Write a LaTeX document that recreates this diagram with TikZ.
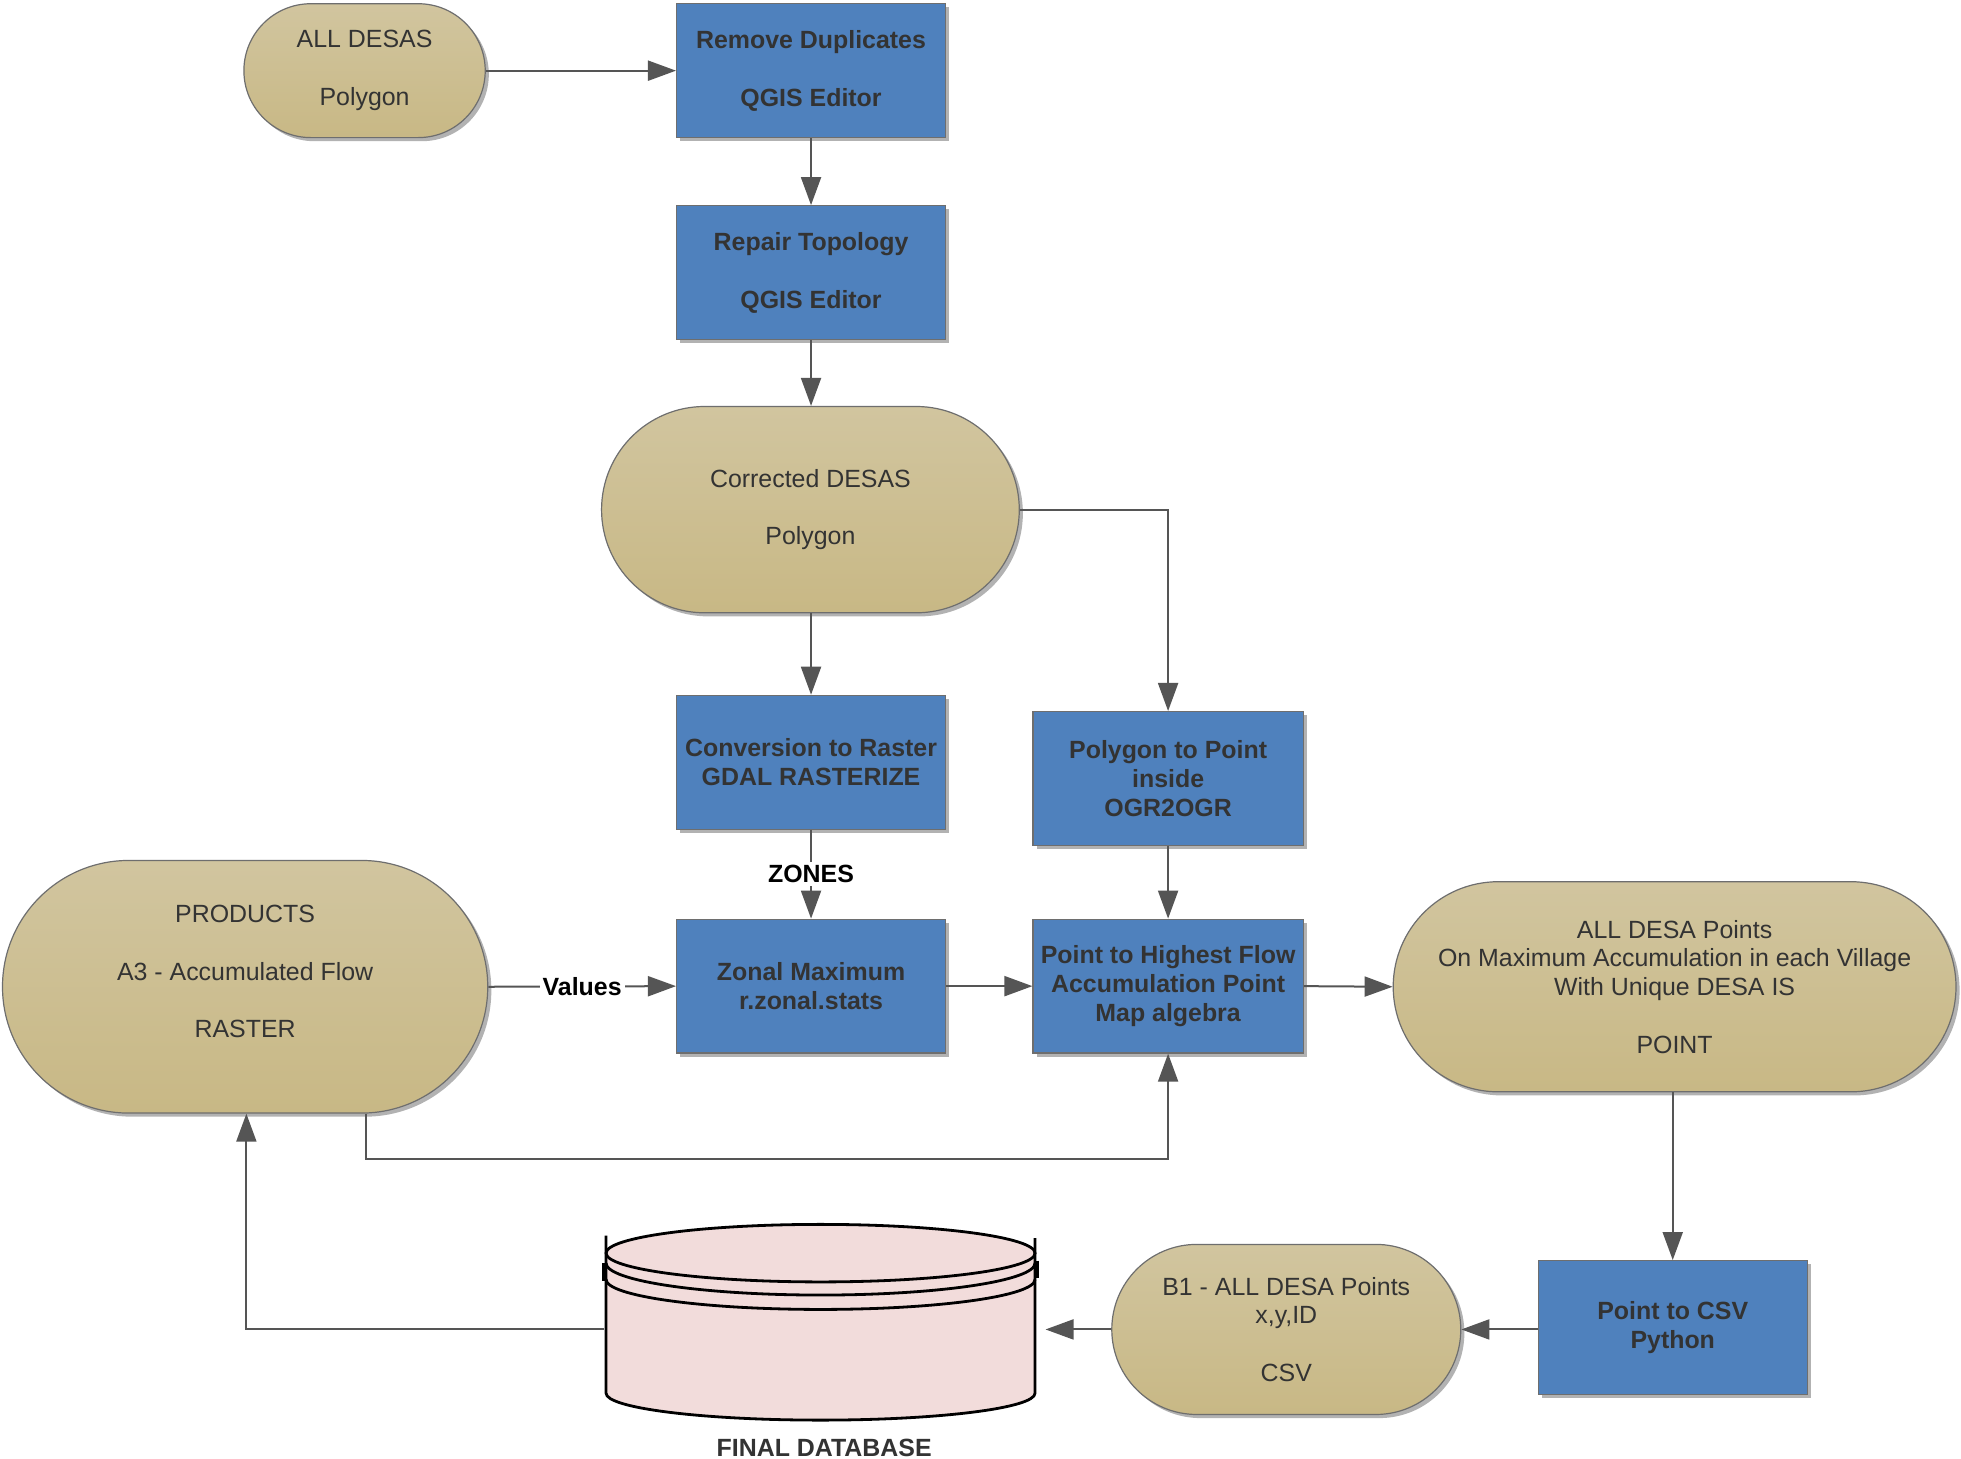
\documentclass[tikz,border=0pt]{standalone}
\usepackage{fontspec}
\setmainfont{Liberation Sans}
\usetikzlibrary{shapes.misc,shadows,arrows.meta,calc}
\definecolor{boxblue}{HTML}{4F81BD}
\definecolor{tanTop}{HTML}{D1C59F}
\definecolor{tanBot}{HTML}{C8B885}
\definecolor{edgegray}{HTML}{6E6E6E}
\definecolor{linegray}{HTML}{555555}
\definecolor{txt}{HTML}{333333}
\definecolor{dbpink}{HTML}{F2DCDB}
\begin{document}
\begin{tikzpicture}[x=0.625pt,y=-0.625pt,
  font=\fontsize{12.45}{14.4}\selectfont,
  shad/.style={drop shadow={shadow xshift=1.8pt, shadow yshift=-1.8pt, fill=black, opacity=0.3}},
  procbox/.style={rectangle, fill=boxblue, draw=edgegray, line width=0.6pt, text=txt,
    font=\fontsize{12.45}{14.4}\selectfont\bfseries, align=center, inner sep=0pt,
    minimum width=134.4pt, minimum height=66.9pt, shad},
  datanode/.style={rounded rectangle, top color=tanTop, bottom color=tanBot, draw=edgegray,
    line width=0.6pt, text=txt, align=center, inner sep=0pt, shad},
  plaintext/.style={text=txt, align=center, inner sep=0pt},
  lbl/.style={fill=white, text=black, font=\fontsize{12.45}{14.4}\selectfont\bfseries, inner sep=1.5pt},
  conn/.style={draw=linegray, line width=1pt, -{Triangle[length=14pt,width=10pt]}},
  dbline/.style={draw=black, line width=1.4pt},
]
\useasboundingbox[fill=white] (0,0) rectangle (1568,1166);

% data (tan) nodes
\node[datanode, minimum width=120.6pt, minimum height=66.9pt] (alldesas) at (291.5,56.5)
  {ALL DESAS\\[14.4pt]Polygon};
\node[datanode, minimum width=208.75pt, minimum height=103.1pt] (corrected) at (648,407.5)
  {Corrected DESAS\\[14.4pt]Polygon};
\node[datanode, minimum width=242.5pt, minimum height=126.25pt] (products) at (196,789) {};
\node[plaintext] (productstext) at (196,777)
  {PRODUCTS\\[14.4pt]A3 - Accumulated Flow\\[14.4pt]RASTER};
\node[datanode, minimum width=281.25pt, minimum height=105pt] (alldesapts) at (1339,789)
  {ALL DESA Points\\On Maximum Accumulation in each Village\\With Unique DESA IS\\[14.4pt]POINT};
\node[datanode, minimum width=174.4pt, minimum height=85pt] (b1) at (1028.5,1063)
  {B1 - ALL DESA Points\\x,y,ID\\[14.4pt]CSV};

% process (blue) boxes
\node[procbox] (remdup) at (648.5,56.5) {Remove Duplicates\\[14.4pt]QGIS Editor};
\node[procbox] (repair) at (648.5,218) {Repair Topology\\[14.4pt]QGIS Editor};
\node[procbox] (conv) at (648.5,609.5) {Conversion to Raster\\GDAL RASTERIZE};
\node[procbox, minimum width=135pt] (poly2pt) at (934,622.5) {Polygon to Point\\inside\\OGR2OGR};
\node[procbox] (zonal) at (648.5,788.5) {Zonal Maximum\\r.zonal.stats};
\node[procbox, minimum width=135pt] (highest) at (934,788.5) {Point to Highest Flow\\Accumulation Point\\Map algebra};
\node[procbox] (pt2csv) at (1337.5,1061.5) {Point to CSV\\Python};

% database cylinder
\fill[dbpink] (484.6,1002) -- (484.6,1114)
  arc[start angle=180, end angle=0, x radius=171.5, y radius=21.5]
  -- (827.6,1002)
  arc[start angle=0, end angle=-180, x radius=171.5, y radius=23] -- cycle;
\draw[dbline] (656.1,1002) ellipse [x radius=171.5, y radius=23];
\draw[dbline] (484.6,1010) arc[start angle=180, end angle=0, x radius=171.5, y radius=25.5];
\draw[dbline] (484.6,1023) arc[start angle=180, end angle=0, x radius=171.5, y radius=24];
\draw[dbline] (484.6,988) -- (484.6,1114)
  arc[start angle=180, end angle=0, x radius=171.5, y radius=21.5] -- (827.6,990);
\draw[dbline] (482.4,1010) -- (482.4,1024);
\draw[dbline] (829.8,1008) -- (829.8,1022);
\node[font=\fontsize{12.45}{14.4}\selectfont\bfseries, text=txt] (dblabel) at (659,1158) {FINAL DATABASE};
\coordinate (dbl) at (483,1063);
\coordinate (dbr) at (836,1063);

% connectors
\draw[conn] (alldesas.east) -- (remdup.west);
\draw[conn] (remdup.south) -- (repair.north);
\draw[conn] (repair.south) -- (corrected.north -| repair.south);
\draw[conn] (corrected.south -| conv.north) -- (conv.north);
\draw[conn] (corrected.east) -| (poly2pt.north);
\draw[conn] (conv.south) -- node[lbl] (zones) {ZONES} (zonal.north);
\draw[conn] (products.east) -- node[lbl] (values) {Values} (zonal.west);
\draw[conn] (zonal.east) -- (highest.west);
\draw[conn] (poly2pt.south) -- (highest.north);
\draw[conn] (highest.east) -- (alldesapts.west);
\draw[conn] ($(products.south)+(97,0)$) -- ++(0,36) -| (highest.south);
\draw[conn] (alldesapts.south -| pt2csv.north) -- (pt2csv.north);
\draw[conn] (pt2csv.west |- b1.east) -- (b1.east);
\draw[conn] (b1.west) -- (dbr);
\draw[conn] (dbl) -| ($(products.south)+(1,0)$);
\end{tikzpicture}
\end{document}
